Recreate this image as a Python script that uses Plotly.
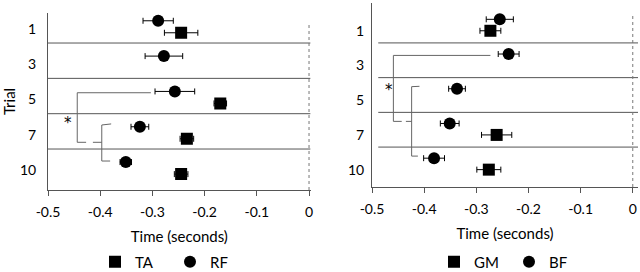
import plotly.graph_objects as go

# ---------------- data ----------------
trials = ["1", "3", "5", "7", "10"]

ta_mean = [-0.245, None, -0.170, -0.234, -0.245]
ta_err = [0.032, None, 0.012, 0.013, 0.013]
rf_mean = [-0.289, -0.278, -0.257, -0.324, -0.351]
rf_err = [0.029, 0.036, 0.038, 0.017, 0.011]

gm_mean = [-0.273, None, None, -0.261, -0.276]
gm_err = [0.020, None, None, 0.029, 0.023]
bf_mean = [-0.255, -0.238, -0.337, -0.351, -0.381]
bf_err = [0.026, 0.020, 0.016, 0.018, 0.020]

x_ticks = [-0.5, -0.4, -0.3, -0.2, -0.1, 0]
x_ticktext = ["-0.5", "-0.4", "-0.3", "-0.2", "-0.1", "0"]

FONT = "Lato"
W, H = 640, 272


def px_x(p):
    return p / W


def px_y(p):
    return 1 - p / H


fig = go.Figure()


def add_series(name, means, errs, symbol, offset, xa, ya, legend):
    ys = [i + offset for i in range(len(trials))]
    fig.add_trace(go.Scatter(
        x=means, y=ys, mode="markers", name=name,
        marker=dict(symbol=symbol, size=12, color="black"),
        error_x=dict(type="data", array=[e if e is not None else 0 for e in errs],
                     color="black", thickness=1, width=3),
        xaxis=xa, yaxis=ya, legend=legend, showlegend=True,
    ))


add_series("TA", ta_mean, ta_err, "square", 0.21, "x", "y", "legend")
add_series("RF", rf_mean, rf_err, "circle", -0.13, "x", "y", "legend")
add_series("GM", gm_mean, gm_err, "square", 0.15, "x2", "y2", "legend2")
add_series("BF", bf_mean, bf_err, "circle", -0.18, "x2", "y2", "legend2")

axis_common = dict(
    showgrid=False, zeroline=False, showline=True, linecolor="#555", linewidth=1,
    tickfont=dict(family=FONT, size=14, color="black"),
    ticklabeloverflow="allow",
)

TITLE_FONT = dict(family=FONT, size=15, color="black")

fig.update_layout(
    width=W, height=H,
    margin=dict(l=0, r=0, t=0, b=0, autoexpand=False),
    paper_bgcolor="white", plot_bgcolor="white",
    font=dict(family=FONT, size=14, color="black"),
    xaxis=dict(domain=[px_x(48), px_x(310.6)], range=[-0.5, 0.003],
               tickvals=x_ticks, ticktext=x_ticktext, ticks="outside", ticklen=5,
               tickcolor="#555", ticklabelstandoff=4,
               title=dict(text="Time (seconds)", standoff=12, font=TITLE_FONT),
               anchor="y", **axis_common),
    yaxis=dict(domain=[px_y(190), px_y(13)], range=[4.66, -0.35],
               tickvals=[i + 0.1 for i in range(len(trials))], ticktext=trials, ticks="",
               ticklabelstandoff=8,
               title=dict(text="Trial", standoff=12, font=TITLE_FONT),
               anchor="x", **axis_common),
    xaxis2=dict(domain=[px_x(372), px_x(638)], range=[-0.5, 0.01],
                tickvals=x_ticks, ticktext=x_ticktext, ticks="outside", ticklen=5,
                tickcolor="#555", ticklabelstandoff=4,
                title=dict(text="Time (seconds)", standoff=12, font=TITLE_FONT),
                anchor="y2", **axis_common),
    yaxis2=dict(domain=[px_y(187), px_y(3)], range=[4.65, -0.65],
                tickvals=[i + 0.15 for i in range(len(trials))], ticktext=trials, ticks="",
                ticklabelstandoff=4, anchor="x2", **axis_common),
    legend=dict(orientation="h", x=px_x(95), y=px_y(262), xanchor="left",
                yanchor="middle", font=dict(family=FONT, size=15),
                itemwidth=30, entrywidth=30, entrywidthmode="pixels",
                bgcolor="rgba(0,0,0,0)"),
    legend2=dict(orientation="h", x=px_x(434), y=px_y(262), xanchor="left",
                 yanchor="middle", font=dict(family=FONT, size=15),
                 itemwidth=30, entrywidth=30, entrywidthmode="pixels",
                 bgcolor="rgba(0,0,0,0)"),
)

shapes = []
for k in range(len(trials) - 1):
    shapes.append(dict(type="line", xref="x", yref="y", x0=-0.5, x1=0.003,
                       y0=k + 0.5, y1=k + 0.5, line=dict(color="#555", width=1)))
    shapes.append(dict(type="line", xref="x2", yref="y2", x0=-0.488, x1=0.01,
                       y0=k + 0.5, y1=k + 0.5, line=dict(color="#555", width=1)))
shapes.append(dict(type="line", xref="x", yref="y domain", x0=0, x1=0, y0=0, y1=0.94,
                   line=dict(color="#777", width=1, dash="dot")))
shapes.append(dict(type="line", xref="x2", yref="y2 domain", x0=0, x1=0, y0=0, y1=0.93,
                   line=dict(color="#777", width=1, dash="dot")))

BR = dict(color="#666", width=1)
shapes.append(dict(type="path", xref="x", yref="y",
                   path="M -0.303 1.907 L -0.444 1.907 L -0.444 3.31 L -0.427 3.31",
                   line=BR))
shapes.append(dict(type="path", xref="x", yref="y",
                   path="M -0.379 2.79 L -0.397 2.82 L -0.397 3.84 L -0.381 3.84",
                   line=BR))
shapes.append(dict(type="path", xref="x", yref="y",
                   path="M -0.414 3.31 L -0.397 3.31", line=BR))
shapes.append(dict(type="path", xref="x2", yref="y2",
                   path="M -0.273 0.86 L -0.459 0.86 L -0.459 2.76 L -0.443 2.76",
                   line=BR))
shapes.append(dict(type="path", xref="x2", yref="y2",
                   path="M -0.409 1.75 L -0.424 1.76 L -0.424 3.76 L -0.412 3.76",
                   line=BR))
shapes.append(dict(type="path", xref="x2", yref="y2",
                   path="M -0.435 2.76 L -0.424 2.76", line=BR))
fig.update_layout(shapes=shapes)

fig.add_annotation(x=-0.462, y=2.75, xref="x", yref="y", text="*", showarrow=False,
                   font=dict(family="DejaVu Sans", size=15, color="black"))
fig.add_annotation(x=-0.468, y=1.87, xref="x2", yref="y2", text="*", showarrow=False,
                   font=dict(family="DejaVu Sans", size=15, color="black"))

fig.write_html("out.html", config={"displayModeBar": False},
               post_script="document.body.style.margin='0';document.body.style.overflow='hidden';")
